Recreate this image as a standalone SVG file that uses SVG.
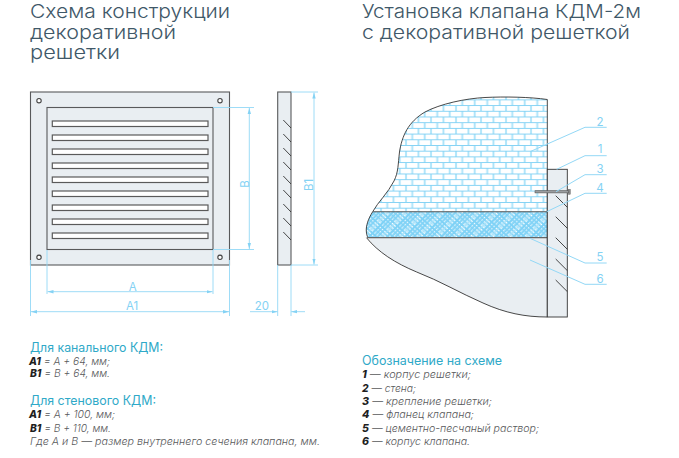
<svg xmlns="http://www.w3.org/2000/svg" width="679" height="458" viewBox="0 0 679 458">
<style>
text{font-family:"Inter","Open Sans","Liberation Sans",sans-serif}
.title{font-size:19px;font-weight:300;fill:#3f5868}
.head{font-size:12.5px;fill:#2fa9c8}
.note{font-size:10.5px;font-style:italic;font-weight:300;fill:#58595b}
.note tspan{font-weight:800;fill:#1f1f1f}
.dimt{font-size:11.5px;fill:#84d2f4}
.num{font-size:11.5px;fill:#84d2f4;text-anchor:middle}
.plate{fill:#e9eef2;stroke:#58595b;stroke-width:1.1}
.slot{fill:#fff;stroke:#5a5a5a;stroke-width:1.2}
.hole{fill:#fff;stroke:#444;stroke-width:1.1}
.hatch{stroke:#333;stroke-width:.9;fill:none}
.dim{stroke:#93d8f6;stroke-width:.9;fill:none}
.arr{stroke:#93d8f6;stroke-width:.9;fill:none;marker-start:url(#as);marker-end:url(#ae)}
.lead{stroke:#93d8f6;stroke-width:1;fill:none}
.edge{stroke:#333;stroke-width:.9;fill:none}
</style>
<defs>
<marker id="ae" markerWidth="7" markerHeight="6" refX="6" refY="2.5" orient="auto" markerUnits="userSpaceOnUse"><path d="M0,.8L6,2.500L0,4.200z" fill="#84d2f4"/></marker>
<marker id="as" markerWidth="7" markerHeight="6" refX="0" refY="2.5" orient="auto" markerUnits="userSpaceOnUse"><path d="M6,.8L0,2.500L6,4.200z" fill="#84d2f4"/></marker>
<pattern id="brick" width="12.5" height="11.4" patternUnits="userSpaceOnUse" x="3" y="2.5">
<rect width="12.5" height="11.4" fill="#fff"/>
<path d="M3,.5V6.200M9.250,6.200V11.400" stroke="#a8e2f9" stroke-width="1.800" fill="none"/>
<path d="M0,.5H12.500M0,6.200H12.500" stroke="#84d2f4" stroke-width="1.100" fill="none"/>
</pattern>
<pattern id="h1" width="11" height="11" patternUnits="userSpaceOnUse" patternTransform="rotate(42)">
<path d="M0,1H11M0,4.200H11M0,7.400H11" stroke="#7fd2f6" stroke-width="2"/>
<path d="M0,9.800H11" stroke="#a6e1f9" stroke-width="1"/>
</pattern>
<pattern id="h2" width="13" height="13" patternUnits="userSpaceOnUse" patternTransform="rotate(-46)">
<path d="M0,1H13M0,4.100H13M0,7.200H13" stroke="#7fd2f6" stroke-width="1.800"/>
<path d="M0,10.300H13" stroke="#a6e1f9" stroke-width="1.200"/>
</pattern>
</defs>

<g id="title-left">
<text class="title" x="30" y="18.300" textLength="200" lengthAdjust="spacingAndGlyphs">Схема конструкции</text>
<text class="title" x="30" y="39.300" textLength="146" lengthAdjust="spacingAndGlyphs">декоративной</text>
<text class="title" x="30" y="59.300" textLength="90" lengthAdjust="spacingAndGlyphs">решетки</text>
</g>
<g id="title-right">
<text class="title" x="362" y="18.300" textLength="279" lengthAdjust="spacingAndGlyphs">Установка клапана КДМ-2м</text>
<text class="title" x="362" y="38.800" textLength="268" lengthAdjust="spacingAndGlyphs">с декоративной решеткой</text>
</g>

<g id="grille-front">
<rect class="plate" x="30.500" y="92" width="199" height="173"/>
<rect class="plate" x="47" y="107.500" width="166" height="142"/>
<g id="slots">
<rect class="slot" x="52.300" y="121" width="155.700" height="5.500"/>
<rect class="slot" x="52.300" y="135" width="155.700" height="5.500"/>
<rect class="slot" x="52.300" y="149" width="155.700" height="5.500"/>
<rect class="slot" x="52.300" y="163" width="155.700" height="5.500"/>
<rect class="slot" x="52.300" y="177" width="155.700" height="5.500"/>
<rect class="slot" x="52.300" y="191" width="155.700" height="5.500"/>
<rect class="slot" x="52.300" y="205" width="155.700" height="5.500"/>
<rect class="slot" x="52.300" y="219" width="155.700" height="5.500"/>
<rect class="slot" x="52.300" y="233" width="155.700" height="5.500"/>
</g>
<circle class="hole" cx="39" cy="100.700" r="2.200"/>
<circle class="hole" cx="220" cy="100.700" r="2.200"/>
<circle class="hole" cx="39" cy="257.300" r="2.200"/>
<circle class="hole" cx="220" cy="257.300" r="2.200"/>
</g>

<g id="grille-side">
<rect class="plate" x="277.700" y="92" width="13.300" height="173"/>
<path class="hatch" d="M283.300,120L291,128M283.300,134L291,142M283.300,148L291,156M283.300,162L291,170M283.300,176L291,184M283.300,190L291,198M283.300,204L291,212M283.300,218L291,226M283.300,232L291,240"/>
</g>

<g id="dimensions">
<path class="dim" d="M30.500,260V316M229.500,260V316M47,250V294M213,250V294M213,107.500H254M213,249.500H254M291,92H318M291,265H318M277.700,265V316M291,265V316"/>
<path class="arr" d="M47.500,291.700H212.500"/>
<path class="arr" d="M31,311.700H229"/>
<path class="arr" d="M249.300,108V249"/>
<path class="arr" d="M314,92.500V264.500"/>
<path class="dim" marker-end="url(#ae)" d="M250,311.700H277.500"/>
<path class="dim" marker-end="url(#ae)" d="M305,311.700H291.200"/>
<text class="dimt" x="132.700" y="291" text-anchor="middle">A</text>
<text class="dimt" x="132" y="310" text-anchor="middle">A1</text>
<text class="dimt" x="262" y="310" text-anchor="middle">20</text>
<text class="dimt" transform="translate(248.500,184) rotate(-90)" text-anchor="middle">B</text>
<text class="dimt" transform="translate(313,185) rotate(-90)" text-anchor="middle">B1</text>
</g>

<g id="valve-body">
<path d="M368,237.700C378,252 395,263 416.700,272C440,281 460,293 483,303C505,313 525,317 547.300,317V237.700Z" fill="#e9eef2"/>
<path class="edge" d="M366.500,237.700C378,252 395,263 416.700,272C440,281 460,293 483,303C505,313 525,317 547.300,317"/>
</g>
<g id="wall-brick">
<path d="M547.300,99.500C530,97 505,96.500 485,97.500C465,98.500 440,104 425,112C408,122 402,136 399.500,152C398,164 398.500,172 394,181C388,193 378,202 372.700,211.700H547.300Z" fill="url(#brick)"/>
<path class="edge" d="M547.300,99.500C530,97 505,96.500 485,97.500C465,98.500 440,104 425,112C408,122 402,136 399.500,152C398,164 398.500,172 394,181C388,193 378,202 372.700,211.700"/>
</g>
<g id="mortar">
<path d="M372.700,211.700C368,219 366,226 366.300,231C366.500,234 367,236 368,237.700H547.300V211.700Z" fill="#fff"/>
<path d="M372.700,211.700C368,219 366,226 366.300,231C366.500,234 367,236 368,237.700H547.300V211.700Z" fill="url(#h1)"/>
<path d="M372.700,211.700C368,219 366,226 366.300,231C366.500,234 367,236 368,237.700H547.300V211.700Z" fill="url(#h2)"/>
<path class="edge" d="M372.700,211.700C368,219 366,226 366.300,231C366.500,234 367,236 368,237.700"/>
<path d="M372.700,211.700H547.300" stroke="#555" stroke-width="1.100" fill="none"/>
<path d="M367,237.700H547.300" stroke="#666" stroke-width="1.300" fill="none"/>
</g>
<g id="grille-section">
<path class="edge" d="M547.300,99.500V317"/>
<rect x="547.300" y="169.300" width="20" height="147.700" fill="#e9eef2" stroke="#333" stroke-width=".9"/>
<path class="hatch" d="M555.700,195.700L567.300,207.300M555.700,216.700L567.300,228.300M555.700,237.700L567.300,249.300M555.700,259L567.300,270.600M555.700,280L567.300,291.600"/>
</g>
<g id="bolt">
<rect x="535" y="190.700" width="34" height="2.200" fill="#9a9c9e" stroke="#555" stroke-width=".6"/>
<rect x="568.500" y="189.300" width="1.800" height="5" fill="#888" stroke="#555" stroke-width=".4"/>
</g>

<g id="leaders">
<path class="lead" d="M530,151.700L585,127.300H606.700"/>
<path class="lead" d="M556.700,169.300L585,155.700H606.700"/>
<path class="lead" d="M556,191.700L585,174.700H606.700"/>
<path class="lead" d="M546.700,211.700L585,193.300H606.700"/>
<path class="lead" d="M530,238.300L585,263H606.700"/>
<path class="lead" d="M530,260L585,284.300H606.700"/>
<text class="num" x="600" y="125.500">2</text>
<text class="num" x="600" y="153">1</text>
<text class="num" x="600" y="173">3</text>
<text class="num" x="600" y="191.500">4</text>
<text class="num" x="600" y="261">5</text>
<text class="num" x="600" y="283">6</text>
</g>

<g id="notes-left">
<text class="head" x="30" y="351.700" textLength="133" lengthAdjust="spacingAndGlyphs">Для канального КДМ:</text>
<text class="note" x="29" y="365" textLength="81" lengthAdjust="spacingAndGlyphs"><tspan>A1</tspan> = A + 64, мм;</text>
<text class="note" x="30" y="377.300" textLength="80" lengthAdjust="spacingAndGlyphs"><tspan>B1</tspan> = B + 64, мм.</text>
<text class="head" x="30" y="405" textLength="126" lengthAdjust="spacingAndGlyphs">Для стенового КДМ:</text>
<text class="note" x="29" y="417.700" textLength="86" lengthAdjust="spacingAndGlyphs"><tspan>A1</tspan> = A + 100, мм;</text>
<text class="note" x="30" y="431.700" textLength="81" lengthAdjust="spacingAndGlyphs"><tspan>B1</tspan> = B + 110, мм.</text>
<text class="note" x="30" y="445" textLength="290" lengthAdjust="spacingAndGlyphs">Где A и B — размер внутреннего сечения клапана, мм.</text>
</g>
<g id="notes-right">
<text class="head" x="362" y="365" textLength="140" lengthAdjust="spacingAndGlyphs">Обозначение на схеме</text>
<text class="note" x="362" y="378.300" textLength="109" lengthAdjust="spacingAndGlyphs"><tspan>1</tspan> — корпус решетки;</text>
<text class="note" x="362" y="391.700" textLength="54" lengthAdjust="spacingAndGlyphs"><tspan>2</tspan> — стена;</text>
<text class="note" x="362" y="405" textLength="130" lengthAdjust="spacingAndGlyphs"><tspan>3</tspan> — крепление решетки;</text>
<text class="note" x="362" y="417.700" textLength="112" lengthAdjust="spacingAndGlyphs"><tspan>4</tspan> — фланец клапана;</text>
<text class="note" x="362" y="431.700" textLength="177" lengthAdjust="spacingAndGlyphs"><tspan>5</tspan> — цементно-песчаный раствор;</text>
<text class="note" x="362" y="445" textLength="108" lengthAdjust="spacingAndGlyphs"><tspan>6</tspan> — корпус клапана.</text>
</g>
</svg>
